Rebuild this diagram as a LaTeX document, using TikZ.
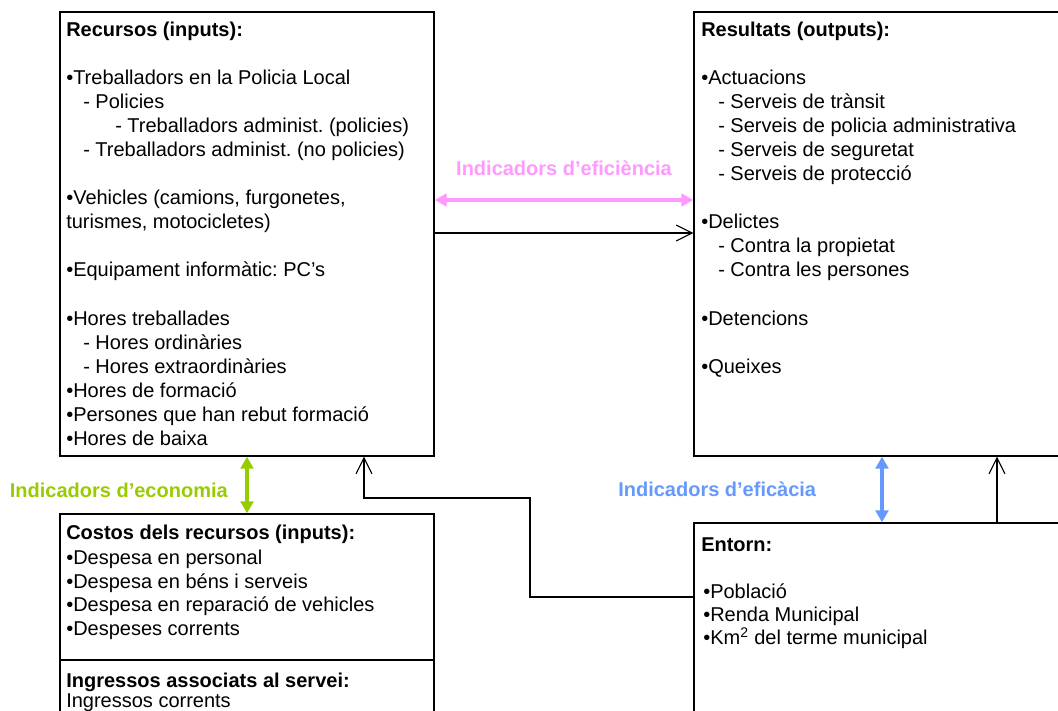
\documentclass[tikz,border=0pt]{standalone}
\usepackage{fontspec}
\setmainfont{Liberation Sans}
\usepackage{tikz}
\usetikzlibrary{positioning, fit, arrows.meta}

\definecolor{efipink}{RGB}{255,153,255}
\definecolor{ecogreen}{RGB}{153,204,0}
\definecolor{efiblue}{RGB}{102,153,255}

\tikzset{
  panel/.style={draw, line width=1pt, inner sep=0pt},
  item/.style={anchor=base west, inner sep=0pt, font=\fontsize{15}{18}\selectfont},
  head/.style={item, font=\fontsize{15}{18}\selectfont\bfseries},
  indic/.style={inner sep=0pt, font=\fontsize{15}{18}\selectfont\bfseries},
  flow/.style={line width=0.8pt, -{Straight Barb[length=12pt,width=12pt]}},
  twoway/.style={line width=3pt, {Triangle[length=9pt,width=9.5pt]}-{Triangle[length=9pt,width=9.5pt]}}
}
\frenchspacing

\begin{document}
\begin{tikzpicture}[x=0.75pt, y=-0.75pt]
    \useasboundingbox (0,0) rectangle (1058,711);
    \clip (0,0) rectangle (1058,711);

    % Draw boxes
    \node[panel, fit={(60,12) (434,456)}] (rec) {};
    \node[panel, fit={(694,12) (1075,456)}] (res) {};
    \node[panel, fit={(60,514) (434,730)}] (cost) {};
    \node[panel, fit={(694,523) (1075,730)}] (ent) {};
    \coordinate (split) at (0,660);
    \draw[line width=1pt] (cost.west |- split) -- (cost.east |- split);

    % Recursos (inputs)
    \node[head] (rec-h) at (66,36) {Recursos (inputs):};
    \foreach \y/\d/\t [count=\i] in {84/0/{•Treballadors en la Policia Local}, 108/17/- Policies,
      132/49/{- Treballadors administ. (policies)}, 156/17/{- Treballadors administ. (no policies)},
      204/0/{•Vehicles (camions, furgonetes,}, 228/0/{turismes, motocicletes)},
      276/0/{•Equipament informàtic: PC’s}, 325/0/•Hores treballades, 349/17/- Hores ordinàries,
      373/17/- Hores extraordinàries, 397/0/•Hores de formació, 421/0/•Persones que han rebut formació,
      445/0/•Hores de baixa} {
      \node[item] (rec-\i) at (66+\d,\y) {\t};
    }

    % Resultats (outputs)
    \node[head] (res-h) at (701,36) {Resultats (outputs):};
    \foreach \y/\d/\t [count=\i] in {84/0/•Actuacions, 108/17/- Serveis de trànsit,
      132/17/- Serveis de policia administrativa, 156/17/- Serveis de seguretat,
      180/17/- Serveis de protecció, 228/0/•Delictes, 252/17/- Contra la propietat,
      276/17/- Contra les persones, 325/0/•Detencions, 373/0/•Queixes} {
      \node[item] (res-\i) at (701+\d,\y) {\t};
    }

    % Costos i ingressos
    \node[head] (cost-h) at (66,539) {Costos dels recursos (inputs):};
    \foreach \y/\t [count=\i] in {564.5/•Despesa en personal, 588/•Despesa en béns i serveis,
      611.5/•Despesa en reparació de vehicles, 635/•Despeses corrents} {
      \node[item] (cost-\i) at (66,\y) {\t};
    }
    \node[head] (ing-h) at (66,687) {Ingressos associats al servei:};
    \node[item] (ing-1) at (66,707) {Ingressos corrents};

    % Entorn
    \node[head] (ent-h) at (701,551) {Entorn:};
    \foreach \y/\t [count=\i] in {598/•Població, 621/•Renda Municipal, 644/{•Km\textsuperscript{2} del terme municipal}} {
      \node[item] (ent-\i) at (703,\y) {\t};
    }

    % Indicators
    \coordinate (pinky) at (0,200);
    \coordinate (flowy) at (0,233);
    \coordinate (greenx) at (247,0);
    \coordinate (bluex) at (882,0);
    \coordinate (upx) at (997,0);
    \coordinate (elbowA) at (530,597);
    \coordinate (elbowB) at (364,498);

    \draw[twoway, efipink] (rec.east |- pinky) -- (res.west |- pinky);
    \node[indic, text=efipink, anchor=base] (effi) at (564,175) {Indicadors d’eficiència};
    \draw[flow] (rec.east |- flowy) -- (res.west |- flowy);

    \draw[twoway, ecogreen] (rec.south -| greenx) -- (cost.north -| greenx);
    \node[indic, text=ecogreen, anchor=base east] (econ) at (228,497) {Indicadors d’economia};

    \draw[twoway, efiblue] (res.south -| bluex) -- (ent.north -| bluex);
    \node[indic, text=efiblue, anchor=base west] (efic) at (618,496) {Indicadors d’eficàcia};

    \draw[flow] (ent.north -| upx) -- (res.south -| upx);
    \draw[flow] (ent.west |- elbowA) -- (elbowA) |- (elbowB) -- (rec.south -| elbowB);
\end{tikzpicture}
\end{document}
